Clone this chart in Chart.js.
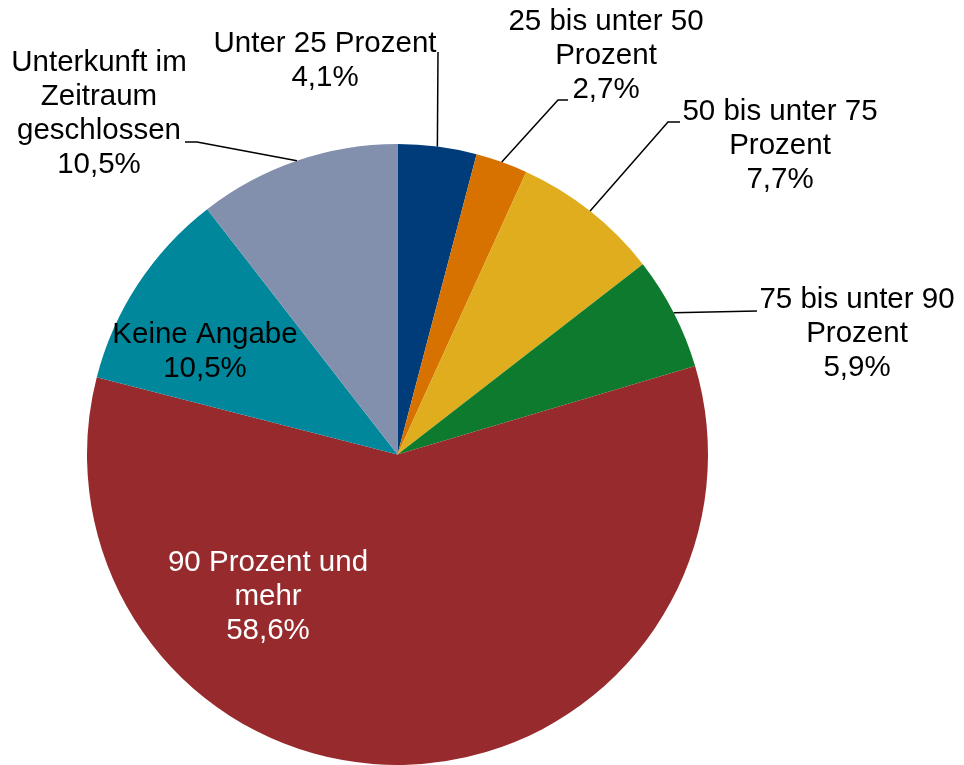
<!DOCTYPE html>
<html lang="de">
<head>
  <meta charset="UTF-8" />
  <title>Auslastung</title>
  <script src="https://cdn.jsdelivr.net/npm/chart.js"></script>
  <style>
    body {
      margin: 0;
      background: #fff;
    }
    #chart {
      display: block;
    }
  </style>
</head>
<body>
  <canvas id="chart" width="964" height="765"></canvas>
<script>
  // Daten
  const kategorien = [
    ['Unter 25 Prozent'],
    ['25 bis unter 50', 'Prozent'],
    ['50 bis unter 75', 'Prozent'],
    ['75 bis unter 90', 'Prozent'],
    ['90 Prozent und', 'mehr'],
    ['Keine Angabe'],
    ['Unterkunft im', 'Zeitraum', 'geschlossen']
  ];
  const anteile = [4.1, 2.7, 7.7, 5.9, 58.6, 10.5, 10.5];
  const farben = ['#003B7A', '#D77100', '#DFAD1D', '#0D7A2E', '#962A2D', '#00879B', '#8390AD'];

  // Position der Beschriftungen (Mitte erste Zeile) und Knickpunkte der Führungslinien
  const beschriftung = [
    { x: 325, y: 44, farbe: '#000', linie: [[438, 52]] },
    { x: 606, y: 22, farbe: '#000', linie: [[558, 100], [568, 100]] },
    { x: 780, y: 112, farbe: '#000', linie: [[668, 122], [680, 122]] },
    { x: 857, y: 300, farbe: '#000', linie: [[757, 311]] },
    { x: 268, y: 563, farbe: '#fff', linie: null },
    { x: 205, y: 335, farbe: '#000', linie: null },
    { x: 99, y: 63, farbe: '#000', linie: [[197, 142], [185, 142]] }
  ];

  function prozent(v) {
    return v.toFixed(1).replace('.', ',') + '%';
  }

  const labelPlugin = {
    id: 'labels',
    afterDatasetsDraw(chart) {
      const ctx = chart.ctx;
      const meta = chart.getDatasetMeta(0);
      ctx.save();
      meta.data.forEach((arc, i) => {
        const p = arc.getProps(['x', 'y', 'startAngle', 'endAngle', 'outerRadius'], true);
        const mid = (p.startAngle + p.endAngle) / 2;
        const ax = p.x + Math.cos(mid) * p.outerRadius;
        const ay = p.y + Math.sin(mid) * p.outerRadius;
        const b = beschriftung[i];

        // Führungslinie
        if (b.linie) {
          ctx.beginPath();
          ctx.moveTo(ax, ay);
          b.linie.forEach(pt => ctx.lineTo(pt[0], pt[1]));
          ctx.strokeStyle = '#000';
          ctx.lineWidth = 1.5;
          ctx.stroke();
        }

        // Text
        const zeilen = kategorien[i].concat([prozent(anteile[i])]);
        ctx.font = '29.5px "Liberation Sans", Arial, sans-serif';
        ctx.fillStyle = b.farbe;
        ctx.textAlign = 'center';
        ctx.textBaseline = 'middle';
        zeilen.forEach((z, k) => ctx.fillText(z, b.x, b.y + k * 34));
      });
      ctx.restore();
    }
  };

  new Chart(document.getElementById('chart'), {
    type: 'pie',
    data: {
      labels: kategorien,
      datasets: [{
        data: anteile,
        backgroundColor: farben,
        borderWidth: 0
      }]
    },
    options: {
      responsive: false,
      animation: false,
      layout: {
        padding: { left: 86, right: 255, top: 144, bottom: -2 }
      },
      plugins: {
        legend: { display: false },
        tooltip: { enabled: false }
      }
    },
    plugins: [labelPlugin]
  });
</script>
</body>
</html>
